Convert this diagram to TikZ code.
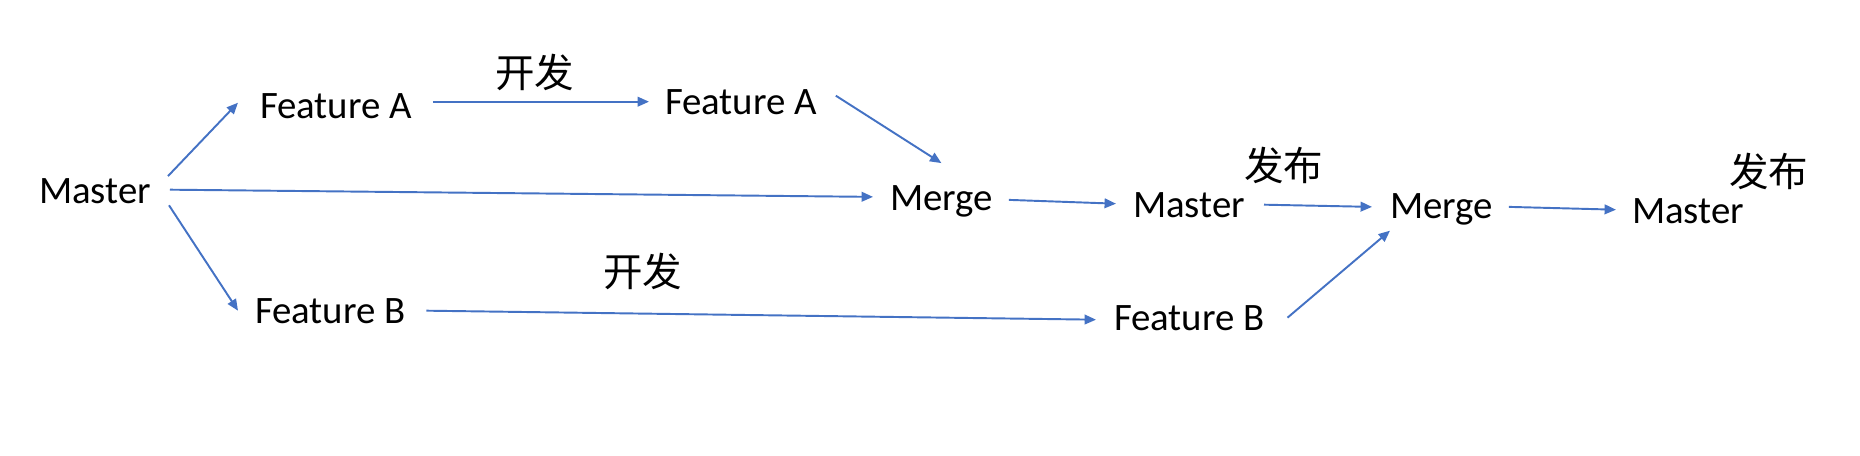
\documentclass[tikz,border=0pt]{standalone}
\usepackage{fontspec}
\setmainfont{Carlito}
\newfontfamily\cjk{Noto Sans CJK SC}
\usetikzlibrary{arrows.meta}
\definecolor{flowblue}{HTML}{4472C4}
\tikzset{
	lbl/.style={inner sep=0pt, outer sep=0pt, anchor=base west, font=\fontsize{22.1}{26}\selectfont},
	tag/.style={lbl, font=\cjk\fontsize{22.5}{26}\selectfont},
	flow/.style={flowblue, line width=1.1pt, -{Triangle[length=6.5pt,width=5.5pt]}}
}
\begin{document}
\begin{tikzpicture}[x=0.02cm, y=-0.02cm]
	\useasboundingbox (0,0) rectangle (1860,456);

	%% Zweige
	\node[lbl] (m1)  at (39,203)   {Master};
	\node[lbl] (fa1) at (260,119)  {Feature A};
	\node[lbl] (fa2) at (665,114)  {Feature A};
	\node[lbl] (fb1) at (255,323)  {Feature B};
	\node[lbl] (fb2) at (1114,330) {Feature B};
	\node[lbl] (mg1) at (890,211)  {Merge};
	\node[lbl] (ms2) at (1133,217) {Master};
	\node[lbl] (mg2) at (1390,218) {Merge};
	\node[lbl] (ms3) at (1632,223) {Master};

	%% Beschriftungen
	\node[tag] (dev1) at (495,88)   {开发};
	\node[tag] (dev2) at (603,286)  {开发};
	\node[tag] (rel1) at (1244,180) {发布};
	\node[tag] (rel2) at (1729,186) {发布};

	%%%%%%%%%%%%%%%%

	%% Pfeile
	\draw[flow] ([shift={(17,-2)}]m1.north east) -- ([shift={(-22,-4)}]fa1.west);
	\draw[flow] ([shift={(19,-1)}]m1.east) -- ([shift={(-17,-5)}]mg1.west);
	\draw[flow] ([shift={(18,2)}]m1.south east) -- ([shift={(-17,0)}]fb1.west);
	\draw[flow] ([shift={(21,-5)}]fa1.east) -- ([shift={(-16,0)}]fa2.west);
	\draw[flow] ([shift={(19,-6)}]fa2.east) -- ([shift={(0,-23)}]mg1.north);
	\draw[flow] ([shift={(16,-2)}]mg1.east) -- ([shift={(-17,-1)}]ms2.west);
	\draw[flow] ([shift={(19,0)}]ms2.east) -- ([shift={(-18,-2)}]mg2.west);
	\draw[flow] ([shift={(16,-2)}]mg2.east) -- ([shift={(-16,-1)}]ms3.west);
	\draw[flow] ([shift={(21,0)}]fb1.east) -- ([shift={(-18,2)}]fb2.west);
	\draw[flow] ([shift={(23,0)}]fb2.east) -- ([shift={(0,6)}]mg2.south west);
\end{tikzpicture}
\end{document}
